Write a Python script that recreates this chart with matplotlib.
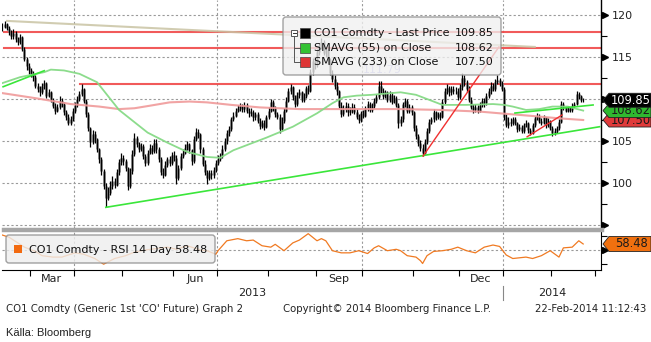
import numpy as np
import pandas as pd
import matplotlib
matplotlib.use("Agg")
import matplotlib.pyplot as plt
import matplotlib.transforms as mtransforms
from matplotlib.patches import FancyBboxPatch, Polygon, Rectangle
from matplotlib.lines import Line2D

plt.rcParams['font.family'] = ['DejaVu Sans']

# -----------------------------
# Brent front month (CO1), daily sessions 12-Feb-2013 .. 21-Feb-2014
# -----------------------------
closes = [
    118.6, 118.9, 118.5, 118.0, 117.5, 117.9, 117.2, 116.8, 117.4, 116.0,
    114.8, 113.9, 113.4, 113.0, 112.6, 111.6, 111.2, 110.8, 111.6, 111.9,
    110.4, 110.8, 109.9, 109.2, 108.6, 109.0, 109.8, 109.4, 108.4, 107.9,
    107.2, 107.6, 108.6, 109.3, 110.0, 110.6, 111.2, 109.8, 108.2, 106.5,
    104.9, 105.8, 105.2, 104.0, 102.8, 101.4, 99.6, 98.2, 98.8, 99.6,
    100.2, 99.8, 101.3, 102.5, 103.0, 102.6, 101.8, 99.6, 101.4, 103.4,
    105.4, 104.6, 104.0, 104.4, 103.2, 102.4, 103.6, 104.2, 103.8, 104.8,
    104.0, 102.8, 101.3, 101.0, 102.2, 102.8, 102.4, 103.3, 103.0, 100.6,
    101.8, 103.2, 103.6, 104.2, 104.6, 103.9, 102.6, 105.2, 106.1, 105.8,
    104.0, 102.3, 101.3, 100.6, 101.2, 100.9, 101.5, 102.4, 102.9, 103.2,
    104.1, 105.0, 105.9, 106.4, 107.6, 108.0, 108.6, 108.9, 109.2, 108.8,
    109.3, 108.6, 108.3, 108.5, 107.8, 108.2, 107.4, 106.8, 107.2, 106.7,
    107.8, 108.6, 109.6, 108.9, 108.2, 107.9, 106.4, 107.4, 108.6, 109.8,
    110.9, 111.4, 110.2, 109.4, 110.5, 110.8, 109.9, 110.3, 111.3, 111.0,
    113.2, 114.5, 114.0, 115.6, 116.3, 116.8, 115.5, 115.8, 114.6, 113.1,
    112.4, 111.6, 110.9, 109.2, 108.2, 108.8, 109.2, 108.4, 108.6, 109.1,
    108.5, 107.9, 107.5, 108.3, 108.0, 108.9, 109.4, 108.7, 109.2, 109.8,
    110.2, 111.6, 111.0, 110.4, 110.8, 109.9, 110.5, 109.7, 110.1, 109.3,
    107.2, 107.6, 109.4, 109.8, 108.6, 109.1, 108.4, 106.5, 105.6, 104.8,
    104.2, 103.6, 104.9, 106.2, 107.3, 107.6, 108.4, 107.8, 108.2, 107.9,
    109.6, 110.9, 111.3, 110.8, 111.2, 110.9, 111.0, 110.2, 111.4, 112.5,
    112.0, 111.2, 109.9, 109.1, 108.7, 109.0, 108.6, 109.3, 109.8, 109.5,
    110.4, 110.9, 111.6, 111.2, 112.0, 112.3, 111.9, 111.2, 107.8, 106.9,
    107.3, 107.1, 107.6, 107.2, 106.4, 106.7, 106.2, 106.9, 107.2, 106.3,
    106.0, 106.9, 107.7, 108.0, 107.4, 107.2, 107.8, 106.9, 107.4, 106.6,
    105.9, 106.2, 106.5, 107.3, 109.4, 109.0, 108.6, 108.9, 108.7, 109.2,
    109.4, 110.6, 110.3, 109.9, 109.85,
]
highs = [
    119.0, 119.3, 119.1, 118.7, 118.2, 118.3, 118.1, 117.4, 117.8, 117.5,
    116.2, 115.0, 114.3, 113.7, 113.3, 112.8, 111.9, 111.5, 111.9, 112.3,
    112.0, 111.2, 111.0, 110.1, 109.5, 109.4, 110.3, 110.1, 109.6, 108.7,
    108.2, 108.0, 108.9, 109.6, 110.4, 110.9, 111.8, 111.3, 110.0, 108.4,
    106.7, 106.3, 106.2, 105.4, 104.2, 103.1, 101.7, 100.0, 99.5, 100.2,
    100.8, 100.6, 101.7, 102.9, 103.6, 103.3, 102.8, 101.9, 101.8, 103.9,
    105.9, 105.6, 104.9, 104.8, 104.6, 103.5, 103.9, 104.6, 104.5, 105.2,
    105.2, 104.3, 103.1, 101.8, 102.6, 103.1, 103.2, 103.7, 103.8, 103.3,
    102.2, 103.6, 104.1, 104.6, 105.0, 104.8, 104.0, 105.6, 106.5, 106.4,
    106.0, 104.3, 102.7, 101.6, 101.6, 101.5, 101.9, 102.7, 103.3, 103.6,
    104.5, 105.4, 106.3, 106.8, 107.9, 108.4, 108.9, 109.3, 109.5, 109.4,
    109.6, 109.5, 108.9, 108.9, 108.7, 108.5, 108.4, 107.7, 107.5, 107.5,
    108.1, 109.0, 110.0, 109.9, 109.2, 108.5, 108.2, 107.8, 108.9, 110.2,
    111.3, 111.8, 111.6, 110.5, 110.8, 111.2, 111.0, 110.7, 111.6, 111.7,
    113.6, 114.9, 115.0, 115.9, 116.7, 117.3, 117.0, 116.2, 116.1, 114.9,
    113.5, 112.8, 112.0, 111.1, 109.6, 109.3, 109.6, 109.5, 109.0, 109.5,
    109.4, 108.8, 108.2, 108.6, 108.7, 109.2, 109.8, 109.7, 109.5, 110.1,
    110.6, 112.1, 112.2, 111.3, 111.1, 111.0, 110.9, 110.8, 110.5, 110.4,
    109.5, 108.0, 109.7, 110.1, 110.0, 109.4, 109.3, 108.6, 106.9, 105.8,
    105.1, 104.6, 105.2, 106.6, 107.6, 107.9, 108.8, 108.6, 108.5, 108.4,
    110.0, 111.3, 111.8, 111.6, 111.5, 111.6, 111.4, 111.3, 111.8, 113.1,
    112.8, 112.3, 111.5, 110.2, 109.4, 109.4, 109.3, 109.6, 110.1, 110.1,
    110.7, 111.3, 112.0, 111.9, 112.4, 112.9, 112.5, 112.1, 111.4, 108.2,
    107.8, 107.7, 107.9, 107.8, 107.3, 107.0, 106.9, 107.2, 107.5, 107.3,
    106.5, 107.2, 108.0, 108.3, 108.2, 107.7, 108.1, 107.9, 107.7, 107.5,
    106.8, 106.5, 106.8, 107.6, 109.8, 109.6, 109.2, 109.2, 109.1, 109.5,
    109.7, 110.9, 110.8, 110.5, 110.1,
]
lows = [
    118.1, 118.4, 118.2, 117.6, 117.1, 117.2, 116.8, 116.4, 116.6, 115.7,
    114.5, 113.5, 113.0, 112.6, 112.2, 111.3, 110.8, 110.4, 110.6, 111.2,
    110.1, 110.2, 109.6, 108.9, 108.2, 108.4, 108.8, 109.0, 108.1, 107.5,
    106.9, 106.9, 107.4, 108.3, 109.1, 109.8, 110.4, 109.5, 107.9, 106.2,
    104.3, 104.6, 104.8, 103.7, 102.4, 100.9, 99.3, 97.1, 98.0, 98.6,
    99.3, 99.4, 99.6, 101.0, 102.2, 102.2, 101.4, 99.2, 99.4, 101.1,
    103.2, 104.3, 103.7, 103.8, 102.9, 102.0, 102.2, 103.4, 103.5, 103.6,
    103.6, 102.5, 100.9, 100.6, 100.8, 101.9, 102.0, 102.2, 102.6, 99.9,
    100.3, 101.6, 103.0, 103.4, 103.9, 103.6, 102.2, 102.4, 105.0, 105.3,
    103.6, 102.0, 100.9, 99.9, 100.3, 100.5, 100.6, 101.3, 102.1, 102.6,
    103.0, 103.8, 104.7, 105.6, 106.2, 107.4, 107.8, 108.4, 108.6, 108.4,
    108.5, 108.3, 107.9, 108.0, 107.4, 107.5, 107.1, 106.4, 106.6, 106.3,
    106.5, 107.6, 108.4, 108.6, 107.9, 107.6, 106.0, 106.2, 107.2, 108.4,
    109.6, 110.6, 109.9, 109.0, 109.2, 110.1, 109.6, 109.6, 110.1, 110.6,
    110.8, 112.9, 113.6, 113.8, 115.2, 115.9, 115.2, 115.0, 114.2, 112.8,
    112.0, 111.2, 110.5, 108.9, 107.8, 108.0, 108.5, 108.0, 108.1, 108.3,
    108.2, 107.6, 107.1, 107.3, 107.7, 107.8, 108.6, 108.4, 108.5, 108.9,
    109.5, 110.0, 110.7, 110.0, 110.1, 109.6, 109.7, 109.4, 109.5, 109.0,
    106.6, 106.8, 107.3, 109.0, 108.3, 108.3, 108.1, 106.2, 105.2, 104.4,
    103.8, 103.2, 103.4, 104.7, 106.0, 107.0, 107.3, 107.5, 107.6, 107.5,
    107.7, 109.4, 110.6, 110.4, 110.5, 110.6, 110.6, 109.9, 110.0, 111.1,
    111.6, 110.8, 109.6, 108.8, 108.3, 108.4, 108.3, 108.4, 109.1, 109.1,
    109.3, 110.1, 110.6, 110.9, 111.0, 111.8, 111.5, 110.9, 107.5, 106.7,
    106.6, 106.8, 106.9, 106.9, 106.1, 106.2, 105.9, 106.0, 106.7, 106.0,
    105.7, 105.8, 106.7, 107.5, 107.1, 106.9, 107.0, 106.6, 106.7, 106.3,
    105.6, 105.7, 106.0, 106.3, 107.2, 108.7, 108.4, 108.4, 108.4, 108.5,
    109.0, 109.3, 110.0, 109.6, 109.6,
]

# moving averages (session index, value)
sma55_idx = [0, 8, 19, 22, 28, 35, 43, 53, 66, 75, 84, 93, 99, 105, 120, 132, 143, 150,
             155, 161, 168, 181, 188, 196, 200, 211, 223, 228, 232, 238, 244, 250, 257, 264]
sma55_val = [111.9, 112.6, 113.2, 113.5, 113.4, 113.0, 112.0, 108.7, 106.0, 104.8, 103.7,
             103.1, 103.0, 103.9, 105.4, 106.7, 108.3, 109.5, 110.2, 110.4, 110.5, 110.8,
             110.5, 109.7, 109.3, 109.3, 109.4, 109.3, 109.1, 108.7, 108.8, 109.1, 109.1, 108.62]
sma233_idx = [0, 15, 31, 44, 53, 60, 67, 76, 85, 93, 104, 117, 135, 149, 163, 181, 199,
              217, 226, 240, 253, 264]
sma233_val = [110.7, 110.1, 109.4, 109.1, 108.8, 108.9, 109.2, 109.6, 109.7, 109.6, 109.3,
              109.0, 108.8, 108.8, 108.8, 108.8, 108.7, 108.5, 108.3, 108.0, 107.7, 107.5]

# RSI 14 day
rsi_idx = [0, 1, 3, 6, 10, 15, 18, 23, 27, 33, 37, 42, 46, 51, 56, 60, 65, 70, 75, 79, 84,
           90, 93, 97, 98, 102, 107, 111, 114, 118, 122, 124, 128, 132, 135, 139, 141, 143,
           145, 147, 150, 154, 158, 162, 166, 169, 171, 175, 179, 181, 184, 188, 190, 191,
           193, 196, 200, 204, 207, 211, 215, 219, 223, 226, 229, 232, 238, 241, 245, 249,
           253, 255, 259, 262, 264]
rsi_val = [71, 70, 68, 62, 54, 48, 42, 40, 40, 46, 44, 38, 30, 38, 42, 47, 50, 52, 54, 51,
           56, 50, 49, 44, 49, 63, 66, 63, 64, 56, 54, 58, 49, 60, 64, 73, 68, 63, 66, 63,
           49, 46, 46, 49, 45, 53, 56, 49, 51, 49, 42, 40, 35, 31, 42, 48, 49, 51, 54, 49,
           46, 54, 57, 55, 43, 38, 40, 38, 42, 49, 40, 53, 54, 63, 58.48]

# drawn studies
level_lines = [118.0, 116.1, 111.79]
level_start = [0.5, 0.5, 35.3]
green_trends = [[(47.0, 97.1), (271.5, 106.7)],
                [(0.3, 111.46), (19.0, 113.37)],
                [(233.0, 108.33), (268.5, 109.29)]]
red_trends = [[(191.2, 103.2), (225.7, 116.2)],
              [(238.5, 105.5), (254.4, 108.1)]]
grey_trend = [(2.1, 119.3), (242.0, 116.2)]

last_price, last_sma55, last_sma233, last_rsi = 109.85, 108.62, 107.50, 58.48

# session calendar (ICE holidays removed)
holidays = pd.to_datetime(['2013-03-29', '2013-12-25', '2013-12-26', '2014-01-01'])
cal = pd.bdate_range('2013-02-12', '2014-03-31')
cal = cal[~cal.isin(holidays)]
month_first = [i for i in range(1, len(cal)) if cal[i].month != cal[i - 1].month]
bounds = {cal[i].strftime('%Y-%m'): i - 0.5 for i in month_first}

# -----------------------------
# figure / layout in pixels
# -----------------------------
W, H = 651, 342
fig = plt.figure(figsize=(W / 100, H / 100), dpi=100)
PX = mtransforms.Affine2D().scale(1 / W, -1 / H).translate(0, 1) + fig.transFigure

XLIM = (-0.2, 272.1)
YLIM = (94.64, 121.79)
RLIM = (21.83, 75.35)
MAIN_TOP, MAIN_BOT = 0, 228
RSI_TOP, RSI_BOT = 232, 270

ax = fig.add_axes([2 / W, 1 - MAIN_BOT / H, 599 / W, (MAIN_BOT - MAIN_TOP) / H])
axr = fig.add_axes([2 / W, 1 - RSI_BOT / H, 599 / W, (RSI_BOT - RSI_TOP) / H])

grid_kw = dict(color='#9a9a9a', lw=0.8, ls=(0, (2, 2)))
quarters = [bounds[m] for m in ['2013-04', '2013-07', '2013-10', '2014-01']]

# ---- price panel ----
x = np.arange(len(closes))
c = np.array(closes)
prev = np.r_[c[0], c[:-1]]
for lv in [95, 100, 105, 110, 115, 120]:
    ax.axhline(lv, zorder=1, **grid_kw)
for q in quarters:
    ax.axvline(q, zorder=1, **grid_kw)

for lv, st in zip(level_lines, level_start):
    ax.plot([st, XLIM[1]], [lv, lv], color='#f04848', lw=1.5, alpha=0.9, zorder=2)
ax.plot(*zip(*grey_trend), color='#c9c4a4', lw=1.5, alpha=0.85, zorder=2)

ax.vlines(x, np.minimum(prev, c), np.maximum(prev, c), color='#8c8c8c', lw=2.0, zorder=3)
ax.vlines(x, lows, highs, color='black', lw=0.9, zorder=3)

ax.plot(sma233_idx, sma233_val, color='#f09a9a', lw=1.5, alpha=0.9, zorder=4)
ax.plot(sma55_idx, sma55_val, color='#86da86', lw=1.3, alpha=0.95, zorder=4)
for seg in green_trends:
    ax.plot(*zip(*seg), color='#3ae63a', lw=1.2, zorder=5)
for seg in red_trends:
    ax.plot(*zip(*seg), color='#f03030', lw=1.0, zorder=5)

ax.text(382, 70, '111.79', transform=PX, color='#aaaae6', fontsize=8,
        ha='center', va='center', zorder=2)

ax.set_xlim(*XLIM)
ax.set_ylim(*YLIM)
ax.set_facecolor('none')
for s in ['left', 'top', 'bottom']:
    ax.spines[s].set_visible(False)
ax.spines['right'].set_linewidth(1.0)
ax.set_xticks([])
ax.yaxis.tick_right()
ax.set_yticks([100, 105, 110, 115, 120])
ax.set_yticks([97.5, 102.5, 107.5, 112.5, 117.5], minor=True)
ax.tick_params(axis='y', which='major', length=0, pad=8, labelsize=8, colors='#222222')
ax.tick_params(axis='y', which='minor', length=4, width=0.8, direction='out')
tri = mtransforms.blended_transform_factory(ax.transAxes, ax.transData) + \
    mtransforms.ScaledTranslation(0.035, 0, fig.dpi_scale_trans)
ax.plot([1] * 6, [95, 100, 105, 110, 115, 120], ls='none', marker='>', ms=4.5,
        color='black', transform=tri, clip_on=False)

# ---- RSI panel ----
axr.axhline(50, zorder=1, **grid_kw)
for q in quarters:
    axr.axvline(q, zorder=1, **grid_kw)
axr.plot(rsi_idx, rsi_val, color='#f07a22', lw=0.9, zorder=3)
axr.set_xlim(*XLIM)
axr.set_ylim(*RLIM)
axr.set_facecolor('none')
for s in ['left', 'top']:
    axr.spines[s].set_visible(False)
axr.yaxis.tick_right()
axr.set_yticks([])
axr.set_yticks([30, 70], minor=True)
axr.tick_params(axis='y', which='minor', length=4, width=0.8, direction='out')
tri_r = mtransforms.blended_transform_factory(axr.transAxes, axr.transData) + \
    mtransforms.ScaledTranslation(0.035, 0, fig.dpi_scale_trans)
axr.plot([1], [50], ls='none', marker='>', ms=4.5, color='black', transform=tri_r,
         clip_on=False)
axr.set_xticks(sorted(bounds.values()))
axr.set_xticklabels([])
axr.tick_params(axis='x', direction='out', length=4, width=0.8)

# separator between the panels
fig.add_artist(Line2D([4, 602], [230, 230], transform=PX, color='#a6a6a6', lw=3.2))

# month / year labels
xb = mtransforms.blended_transform_factory(axr.transData, PX)
month_keys = list(bounds.keys())
for name, key in [('Mar', '2013-03'), ('Jun', '2013-06'), ('Sep', '2013-09'), ('Dec', '2013-12')]:
    k = month_keys.index(key)
    mid = (bounds[key] + bounds[month_keys[k + 1]]) / 2
    fig.text(mid, 279, name, transform=xb, ha='center', va='center', fontsize=8,
             color='#222222')
jan = bounds['2014-01']
fig.text((XLIM[0] + jan) / 2, 293, '2013', transform=xb, ha='center', va='center',
         fontsize=8, color='#222222')
fig.text((jan + XLIM[1]) / 2, 293, '2014', transform=xb, ha='center', va='center',
         fontsize=8, color='#222222')
fig.add_artist(Line2D([jan, jan], [286, 300], transform=xb, color='#888888', lw=0.8))

# footer
foot = dict(fontsize=7.3, va='center', color='#222222', transform=PX)
fig.text(6, 309, "CO1 Comdty (Generic 1st 'CO' Future) Graph 2", ha='left', **foot)
fig.text(283, 309, "Copyright\u00a9 2014 Bloomberg Finance L.P.", ha='left', **foot)
fig.text(646, 309, "22-Feb-2014 11:12:43", ha='right', **foot)
fig.text(6, 333, "Källa: Bloomberg", ha='left', va='center', fontsize=8,
         family=['Liberation Sans', 'DejaVu Sans'], color='#222222', transform=PX)

# ---- legends ----
fig.add_artist(FancyBboxPatch((283, 17), 218, 58, boxstyle='round,pad=0,rounding_size=3',
                              transform=PX, fc='#f0f0f0', ec='#8a8a8a', lw=1.0,
                              alpha=0.78, zorder=6))
fig.add_artist(Rectangle((291, 29.5), 6, 6, transform=PX, fc='white', ec='#555555',
                         lw=0.7, zorder=7))
fig.add_artist(Line2D([292.5, 295.5], [32.5, 32.5], transform=PX, color='#333333',
                      lw=0.7, zorder=7))
fig.add_artist(Line2D([294, 294, 300], [35.5, 62, 62], transform=PX, color='#555555',
                      lw=0.7, zorder=7))
fig.add_artist(Line2D([294, 300], [48, 48], transform=PX, color='#555555', lw=0.7,
                      zorder=7))
rows = [('CO1 Comdty - Last Price', last_price, '#000000'),
        ('SMAVG (55) on Close', last_sma55, '#33c233'),
        ('SMAVG (233) on Close', last_sma233, '#dd3535')]
for (lab, val, col), yy in zip(rows, [33, 48, 62]):
    fig.add_artist(Rectangle((300, yy - 5), 10, 10, transform=PX, fc=col, ec='#444444',
                             lw=0.5, zorder=7))
    fig.text(314, yy, lab, transform=PX, fontsize=8, va='center', ha='left',
             color='#111111', zorder=8)
    fig.text(494, yy, f'{val:.2f}', transform=PX, fontsize=8, va='center', ha='right',
             color='#111111', zorder=8)

fig.add_artist(FancyBboxPatch((6, 235), 209, 28, boxstyle='round,pad=0,rounding_size=3',
                              transform=PX, fc='#eeeeee', ec='#8a8a8a', lw=1.0,
                              alpha=0.8, zorder=6))
fig.add_artist(Rectangle((14, 245), 8, 8, transform=PX, fc='#f26a10', ec='none', zorder=7))
fig.text(29, 250, f'CO1 Comdty - RSI 14 Day {last_rsi:.2f}', transform=PX, fontsize=8,
         va='center', ha='left', color='#111111', zorder=8)


# ---- value tags on the right axis ----
def ypx(val, lim, top, bot):
    return top + (lim[1] - val) / (lim[1] - lim[0]) * (bot - top)


def tag(yc, text, fc, tc, h=14, x0=603, x1=651, z=9):
    pts = [(x0, yc), (x0 + 6, yc - h / 2), (x1, yc - h / 2), (x1, yc + h / 2),
           (x0 + 6, yc + h / 2)]
    fig.add_artist(Polygon(pts, closed=True, transform=PX, fc=fc, ec='#222222', lw=0.6,
                           zorder=z))
    fig.text((x0 + 6 + x1) / 2 + 1, yc, text, transform=PX, fontsize=8.3, color=tc,
             ha='center', va='center', zorder=z + 0.5)


tag(ypx(last_sma233, YLIM, MAIN_TOP, MAIN_BOT), f'{last_sma233:.2f}', '#e03a3a', '#1a1a1a', z=9)
tag(ypx(last_sma55, YLIM, MAIN_TOP, MAIN_BOT), f'{last_sma55:.2f}', '#2fb82f', '#1a1a1a', z=10)
tag(ypx(last_price, YLIM, MAIN_TOP, MAIN_BOT), f'{last_price:.2f}', '#000000', 'white', z=11)
tag(ypx(last_rsi, RLIM, RSI_TOP, RSI_BOT), f'{last_rsi:.2f}', '#f0700f', '#1a1a1a', h=15, z=9)

fig.savefig('out.png', dpi=100)
